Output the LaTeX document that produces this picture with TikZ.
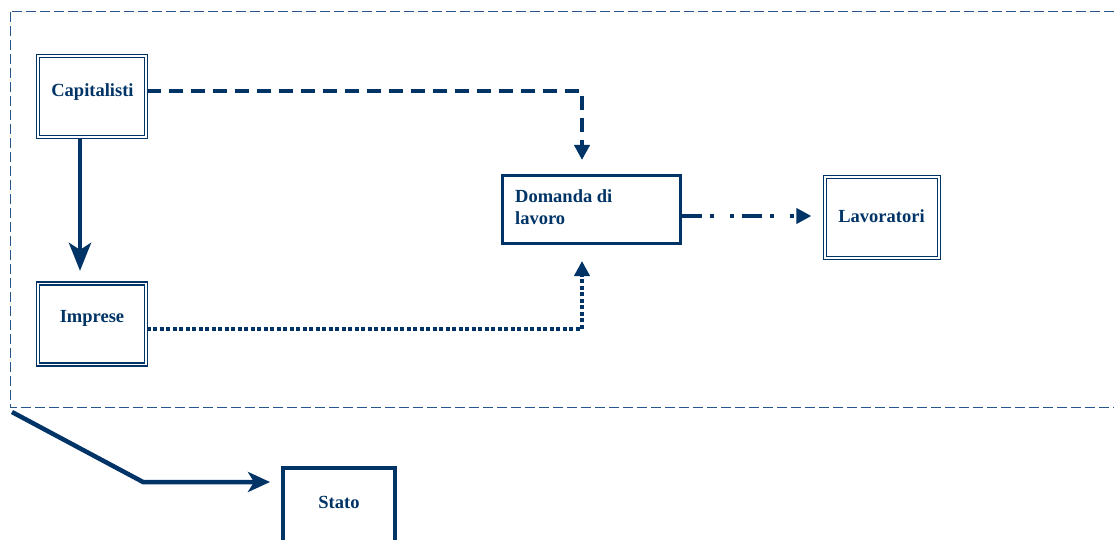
\documentclass[tikz,border=0pt]{standalone}
\usepackage{fontspec}
\setmainfont{Liberation Serif}
\usetikzlibrary{arrows.meta}
\definecolor{navy}{RGB}{0,51,102}
\definecolor{framec}{RGB}{40,85,140}
\begin{document}
\begin{tikzpicture}[x=1pt,y=-1pt,
  dbox/.style={draw=navy,double=white,line width=1.2pt,double distance=1.8pt,minimum width=108pt,minimum height=81pt,inner sep=0pt},
  tbox/.style={draw=navy,line width=3pt,inner sep=0pt},
  lbl/.style={text=navy,font=\bfseries\fontsize{18.5}{22}\selectfont,inner sep=0pt},
  conn/.style={draw=navy,line width=4.5pt},
  tri/.style={-{Triangle[width=15pt,length=15pt]}}
]
\useasboundingbox (0,0) rectangle (1114,540);
% frame
\draw[framec,line width=1pt,dash pattern=on 10pt off 4pt] (10,12) rectangle (1140,407);
\coordinate (fc) at (12,412);
\coordinate (bend) at (143,482);
% boxes
\node[dbox] (cap) at (92,96.5) {};
\node[dbox] (imp) at (92,324) {};
\node[dbox,minimum width=114pt] (lav) at (882,217.5) {};
\node[tbox,minimum width=178pt,minimum height=68pt] (dom) at (591.5,209.5) {};
\node[tbox,line width=4pt,minimum width=112pt,minimum height=100pt] (stato) at (339,518) {};
% labels
\node[lbl,anchor=base] (capt) at (92.5,97) {Capitalisti};
\node[lbl,anchor=base] (impt) at (92,322) {Imprese};
\node[lbl,anchor=base] (lavt) at (881.5,223) {Lavoratori};
\node[lbl,anchor=base] (statot) at (339,508) {Stato};
\node[lbl,anchor=base west] (domt1) at (515,203) {Domanda di};
\node[lbl,anchor=base west] (domt2) at (515,225) {lavoro};
% connectors
\draw[conn,tri,dash pattern=on 14pt off 8pt,shorten >=14pt]
  ([yshift=5.5pt]cap.east) -| ([xshift=-9.5pt]dom.north);
\draw[conn,-{Stealth[width=22pt,length=28pt,inset=7pt]},shorten >=12pt]
  ([xshift=-12pt]cap.south) -- ([xshift=-12pt]imp.north);
\draw[conn,tri,dash pattern=on 4pt off 2.5pt,shorten >=16pt]
  ([yshift=-5pt]imp.east) -| ([xshift=-9.5pt]dom.south);
\coordinate (d1) at ([yshift=-6.5pt]dom.east);
\draw[conn,tri,dash pattern=on 20pt off 8pt on 4pt off 16pt on 4pt off 8pt,shorten >=13pt]
  (d1) -- (d1 -| lav.west);
\draw[conn,line width=4.5pt,-{Stealth[width=20pt,length=22pt,inset=6pt]},shorten >=11pt]
  (fc) -- (bend) -- (bend -| stato.west);
\end{tikzpicture}
\end{document}
